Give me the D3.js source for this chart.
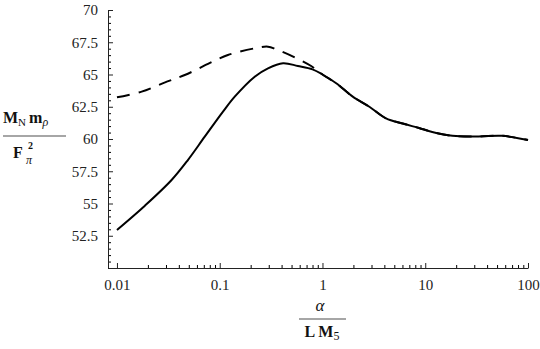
<!DOCTYPE html>
<html>
<head>
<meta charset="utf-8">
<script src="https://cdn.jsdelivr.net/npm/d3@7"></script>
<style>
  body { margin: 0; background: #fff; }
  svg { display: block; }
</style>
</head>
<body>
<svg></svg>
<script>
// values
let solidX = [0.01, 0.0187, 0.034, 0.049, 0.0715, 0.1076, 0.14, 0.219, 0.295, 0.413, 0.576, 0.8, 1.0, 1.36, 1.97, 2.86, 4.15, 6.03, 8.7, 11.7, 18.4, 33, 56, 100];
let solidY = [52.95, 54.83, 56.82, 58.37, 60.18, 62.12, 63.28, 64.83, 65.48, 65.87, 65.66, 65.4, 65.0, 64.32, 63.28, 62.5, 61.6, 61.2, 60.85, 60.55, 60.25, 60.2, 60.25, 59.92];

let dashedX = [0.01, 0.0174, 0.029, 0.0457, 0.0894, 0.12, 0.219, 0.295, 0.355, 0.537, 0.776, 1.0, 1.36, 1.97, 2.86, 4.15, 6.03, 8.7, 11.7, 18.4, 33, 56, 100];
let dashedY = [63.23, 63.67, 64.37, 64.96, 66.07, 66.51, 67.03, 67.16, 66.95, 66.33, 65.66, 65.0, 64.32, 63.28, 62.5, 61.6, 61.2, 60.85, 60.55, 60.25, 60.2, 60.25, 59.92];

let xTicks = [0.01, 0.1, 1, 10, 100];
let yTicks = [52.5, 55, 57.5, 60, 62.5, 65, 67.5, 70];

let width = 540;
let height = 349;

let svg = d3.select('svg')
    .attr('width', width)
    .attr('height', height)
    .attr('font-family', '"Liberation Serif", "Times New Roman", serif');

let x = d3.scaleLog().domain([0.00818, 100]).range([108, 528]);
let y = d3.scaleLinear().domain([50, 70]).range([268, 10]);

// minor ticks
let xMinor = [];
[0.01, 0.1, 1, 10].forEach(d => {
    for (let k = 2; k <= 9; k++) xMinor.push(d * k);
});
let yMinor = d3.range(50, 70.01, 0.5).filter(v => !yTicks.includes(v));

svg.append('g')
    .attr('transform', 'translate(0,268)')
    .call(d3.axisBottom(x).tickValues(xMinor).tickSize(-3).tickFormat(''))
    .call(g => g.select('.domain').remove());

svg.append('g')
    .attr('transform', 'translate(108,0)')
    .call(d3.axisLeft(y).tickValues(yMinor).tickSize(-3).tickFormat(''))
    .call(g => g.select('.domain').remove());

let xAxis = svg.append('g')
    .attr('transform', 'translate(0,268)')
    .call(d3.axisBottom(x).tickValues(xTicks).tickSize(-5).tickSizeOuter(0)
        .tickPadding(11).tickFormat(d => String(d)));

let yAxis = svg.append('g')
    .attr('transform', 'translate(108,0)')
    .call(d3.axisLeft(y).tickValues(yTicks).tickSize(-5).tickSizeOuter(0)
        .tickPadding(10).tickFormat(d => String(d)));

[xAxis, yAxis].forEach(g => {
    g.selectAll('text')
        .attr('font-family', '"Liberation Serif", serif')
        .attr('font-size', 15)
        .attr('fill', '#222');
    g.select('.domain').attr('stroke', '#222');
    g.selectAll('line').attr('stroke', '#222');
});

let line = d3.line()
    .x(d => x(d[0]))
    .y(d => y(d[1]))
    .curve(d3.curveCatmullRom);

svg.append('path')
    .datum(d3.zip(dashedX, dashedY))
    .attr('fill', 'none')
    .attr('stroke', '#000')
    .attr('stroke-width', 2)
    .attr('stroke-dasharray', '13,9')
    .attr('d', line);

svg.append('path')
    .datum(d3.zip(solidX, solidY))
    .attr('fill', 'none')
    .attr('stroke', '#000')
    .attr('stroke-width', 2)
    .attr('d', line);

// y label: M_N m_rho / F_pi^2
let yl = svg.append('g').attr('fill', '#111');
let num = yl.append('text')
    .attr('x', 3).attr('y', 123)
    .attr('font-size', 16).attr('font-weight', 'bold');
num.append('tspan').text('M');
num.append('tspan').attr('font-size', 11).attr('font-weight', 'normal').attr('dy', 3).text('N');
num.append('tspan').attr('dy', -3).attr('dx', 3).text('m');
num.append('tspan').attr('font-size', 12).attr('font-style', 'italic').attr('font-weight', 'normal').attr('dy', 3).text('ρ');

yl.append('line')
    .attr('x1', 3).attr('x2', 66)
    .attr('y1', 136).attr('y2', 136)
    .attr('stroke', '#888').attr('stroke-width', 1.5);

yl.append('text').attr('x', 13).attr('y', 158)
    .attr('font-size', 16).attr('font-weight', 'bold').text('F');
yl.append('text').attr('x', 26).attr('y', 164)
    .attr('font-size', 12).attr('font-style', 'italic').text('π');
yl.append('text').attr('x', 28).attr('y', 149)
    .attr('font-size', 10).attr('font-weight', 'bold').text('2');

// x label: alpha / L M_5
let xl = svg.append('g').attr('fill', '#111');
xl.append('text')
    .attr('x', 320).attr('y', 311)
    .attr('text-anchor', 'middle')
    .attr('font-size', 17).attr('font-style', 'italic')
    .text('α');
xl.append('line')
    .attr('x1', 299).attr('x2', 346)
    .attr('y1', 319).attr('y2', 319)
    .attr('stroke', '#888').attr('stroke-width', 1.5);
let den = xl.append('text')
    .attr('x', 322).attr('y', 337)
    .attr('text-anchor', 'middle')
    .attr('font-size', 16).attr('font-weight', 'bold');
den.append('tspan').text('L M');
den.append('tspan').attr('font-size', 12).attr('font-weight', 'normal').attr('dy', 3).text('5');
</script>
</body>
</html>
